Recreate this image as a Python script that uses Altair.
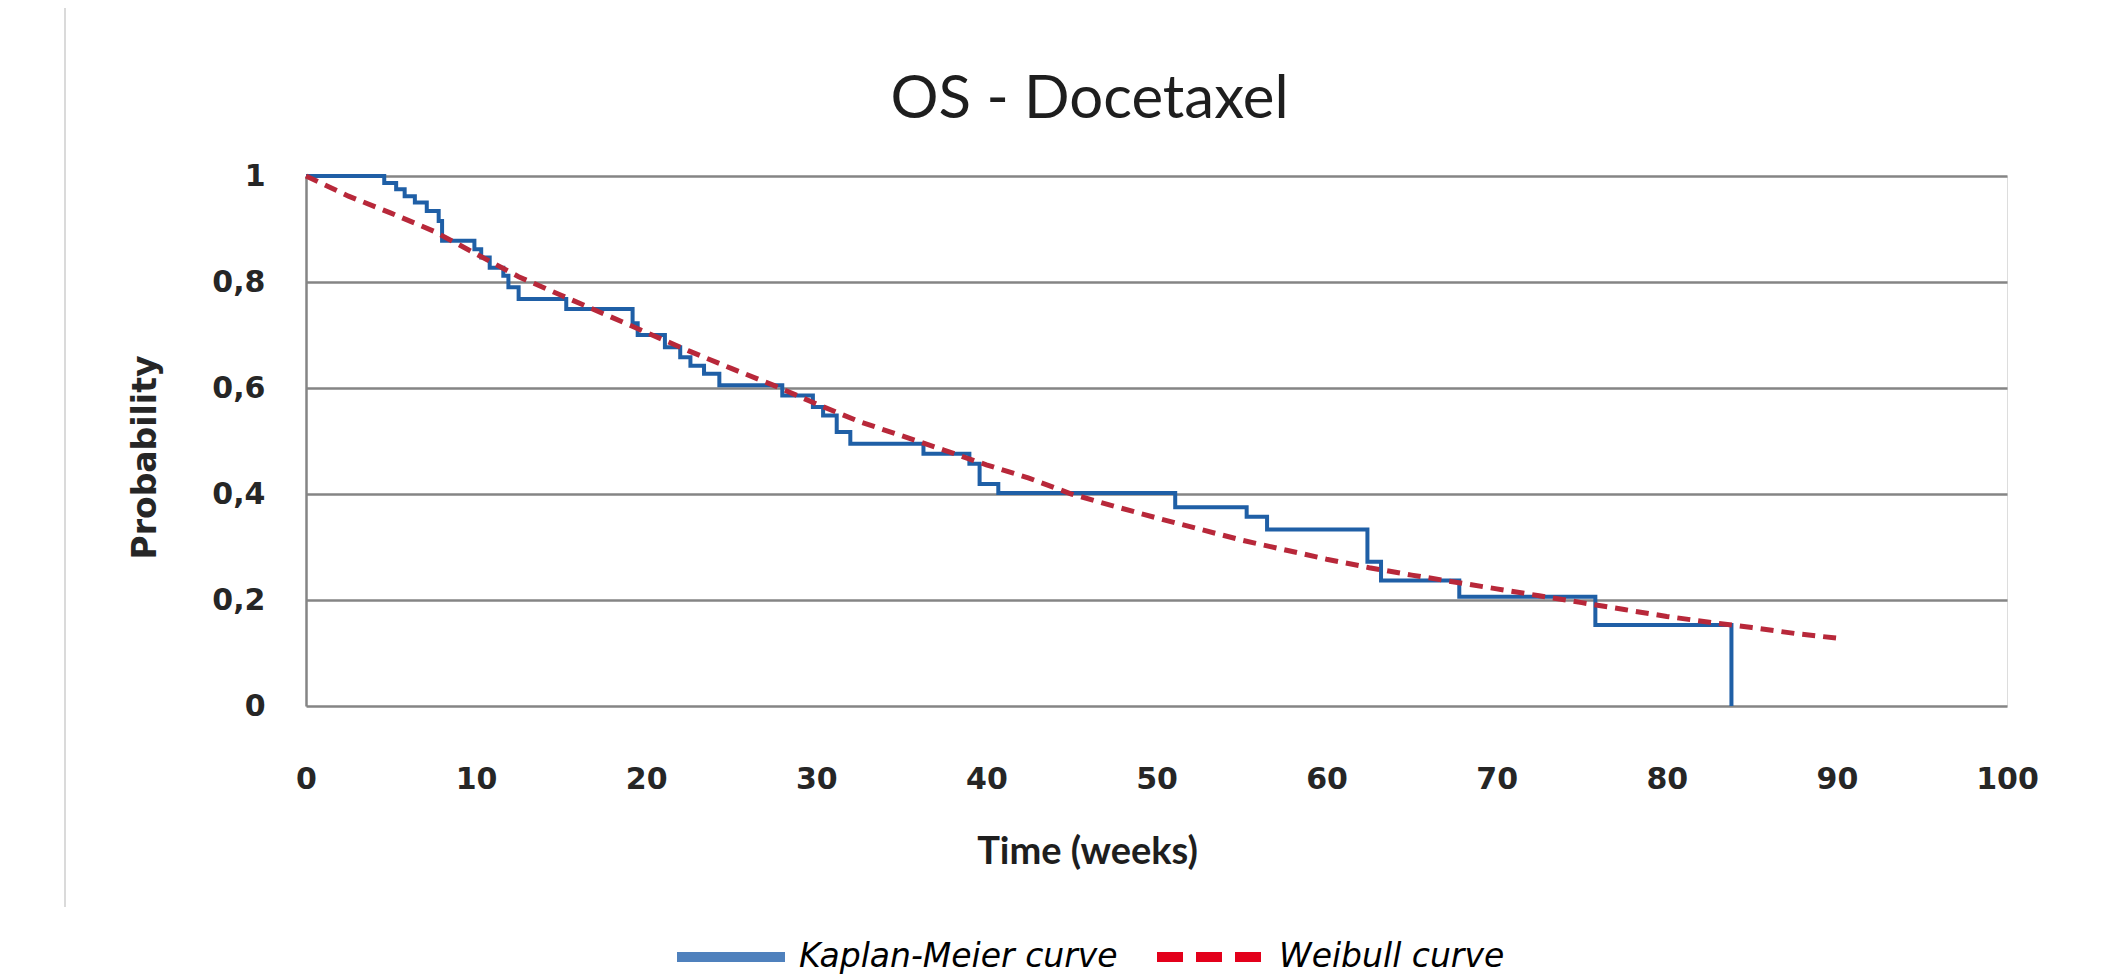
import altair as alt
import pandas as pd

# ---- data ----
km_time = [0, 4.6, 5.3, 5.8, 6.4, 7.1, 7.8, 8.0, 9.9, 10.3, 10.8, 11.6, 11.9, 12.5,
           15.3, 19.2, 19.5, 21.1, 22.0, 22.6, 23.4, 24.3, 28.0, 29.8, 30.4, 31.2, 32.0,
           36.3, 39.0, 39.6, 40.7, 51.1, 55.3, 56.5, 62.4, 63.2, 67.8, 75.8, 83.8]
km_surv = [1.0, 0.987, 0.975, 0.962, 0.950, 0.934, 0.915, 0.878, 0.862, 0.846, 0.827, 0.812, 0.790, 0.768,
           0.749, 0.722, 0.700, 0.677, 0.658, 0.642, 0.627, 0.605, 0.586, 0.564, 0.548, 0.517, 0.495,
           0.476, 0.457, 0.419, 0.402, 0.375, 0.357, 0.333, 0.272, 0.237, 0.206, 0.153, 0.0]

wb_time = [0, 2.5, 5, 7.5, 10, 12.5, 15, 17.5, 20, 22.5, 25, 27.5, 30, 32.5, 35, 37.5, 40, 42.5,
           45, 47.5, 50, 52.5, 55, 57.5, 60, 62.5, 65, 67.5, 70, 72.5, 75, 77.5, 80, 82.5, 85, 87.5, 90]
wb_surv = [1.0, 0.962, 0.93, 0.896, 0.853, 0.81, 0.775, 0.74, 0.705, 0.67, 0.637, 0.605, 0.57, 0.537,
           0.51, 0.483, 0.455, 0.43, 0.40, 0.377, 0.355, 0.334, 0.313, 0.295, 0.277, 0.261, 0.247,
           0.234, 0.221, 0.208, 0.195, 0.182, 0.169, 0.158, 0.148, 0.137, 0.128]

x_ticks = [0, 10, 20, 30, 40, 50, 60, 70, 80, 90, 100]
y_ticks = [0, 0.2, 0.4, 0.6, 0.8, 1]
series_names = ["Kaplan-Meier curve", "Weibull curve"]
title_text = "OS - Docetaxel"
x_title = "Time (weeks)"
y_title = "Probability"

km_df = pd.DataFrame({"time": km_time, "prob": km_surv, "series": series_names[0]})
wb_df = pd.DataFrame({"time": wb_time, "prob": wb_surv, "series": series_names[1]})

x_enc = alt.X(
    "time:Q",
    scale=alt.Scale(domain=[0, 100], nice=False, zero=False),
    axis=alt.Axis(
        values=x_ticks, format="d",
        labelFont="DejaVu Sans", labelFontSize=30, labelFontWeight="bold", labelColor="#262626",
        labelPadding=58, ticks=False, domain=False, grid=False, labelFlush=False, labelOverlap=False,
        title=x_title, titleFont="Lato", titleFontSize=38, titleFontWeight="bold", titleColor="#1e1e1e",
        titleX=781, titleY=127, titleBaseline="top", titleAlign="center",
    ),
)
y_enc = alt.Y(
    "prob:Q",
    scale=alt.Scale(domain=[0, 1], nice=False, zero=False),
    axis=alt.Axis(
        values=y_ticks,
        labelExpr="datum.value == 0 ? '0' : datum.value == 1 ? '1' : replace(format(datum.value, '.1f'), '.', ',')",
        labelFont="DejaVu Sans", labelFontSize=30, labelFontWeight="bold", labelColor="#262626",
        labelPadding=41, ticks=False, labelFlush=False, labelOverlap=False,
        domain=True, domainColor="#858585", domainWidth=2.5,
        grid=True, gridColor="#858585", gridWidth=2.5, gridOpacity=1,
        title=y_title, titleFont="DejaVu Sans", titleFontSize=33, titleFontWeight="bold",
        titleColor="#262626", titleX=-161, titleY=281, titleBaseline="middle", titleAlign="center",
    ),
)

km_line = alt.Chart(km_df).mark_line(
    interpolate="step-after", strokeWidth=4, color="#1f5fa6"
).encode(x=x_enc, y=y_enc)

wb_line = alt.Chart(wb_df).mark_line(
    strokeWidth=5, color="#b8283a", strokeDash=[13, 8], strokeCap="butt"
).encode(x=x_enc, y=y_enc)


def legend_def(lx):
    return alt.Legend(
        orient="none", legendX=lx, legendY=722, direction="horizontal", title=None,
        symbolType="stroke", symbolSize=11664, symbolStrokeWidth=10,
        labelFont="DejaVu Sans", labelFontStyle="italic", labelFontSize=33, labelColor="#000000",
        labelOffset=9, labelLimit=0, padding=0,
    )


km_legend = alt.Chart(km_df).transform_filter("false").mark_line(strokeWidth=10).encode(
    x=x_enc, y=y_enc,
    color=alt.Color("series:N", scale=alt.Scale(domain=[series_names[0]], range=["#4f81bd"]),
                    legend=legend_def(366)),
)

wb_legend = alt.Chart(wb_df).transform_filter("false").mark_line(strokeWidth=10).encode(
    x=x_enc, y=y_enc,
    color=alt.Color("series:N", scale=alt.Scale(domain=[series_names[1]], range=["#e3001b"]),
                    legend=legend_def(846)),
    strokeDash=alt.StrokeDash("series:N", scale=alt.Scale(domain=[series_names[1]], range=[[26, 13]]),
                              legend=legend_def(846)),
)

frame_line = alt.Chart(pd.DataFrame({"a": [0]})).mark_rule(color="#dadada", strokeWidth=2).encode(
    x=alt.value(-241), y=alt.value(-168), y2=alt.value(731)
)

chart = alt.layer(frame_line, km_line, wb_line, km_legend, wb_legend).resolve_scale(
    color="independent", strokeDash="independent"
).properties(
    width=1701, height=530,
    title=alt.TitleParams(title_text, font="Lato", fontSize=60, fontWeight="normal", color="#1e1e1e",
                          anchor="middle", dx=-67, frame="group", offset=-171, baseline="alphabetic"),
    padding={"left": 298, "top": 168, "right": 80, "bottom": 269},
    autosize=alt.AutoSizeParams(type="none"),
).configure_view(stroke=None).configure(background="white")

chart.save("out.html", embed_options={"renderer": "svg", "actions": False})
